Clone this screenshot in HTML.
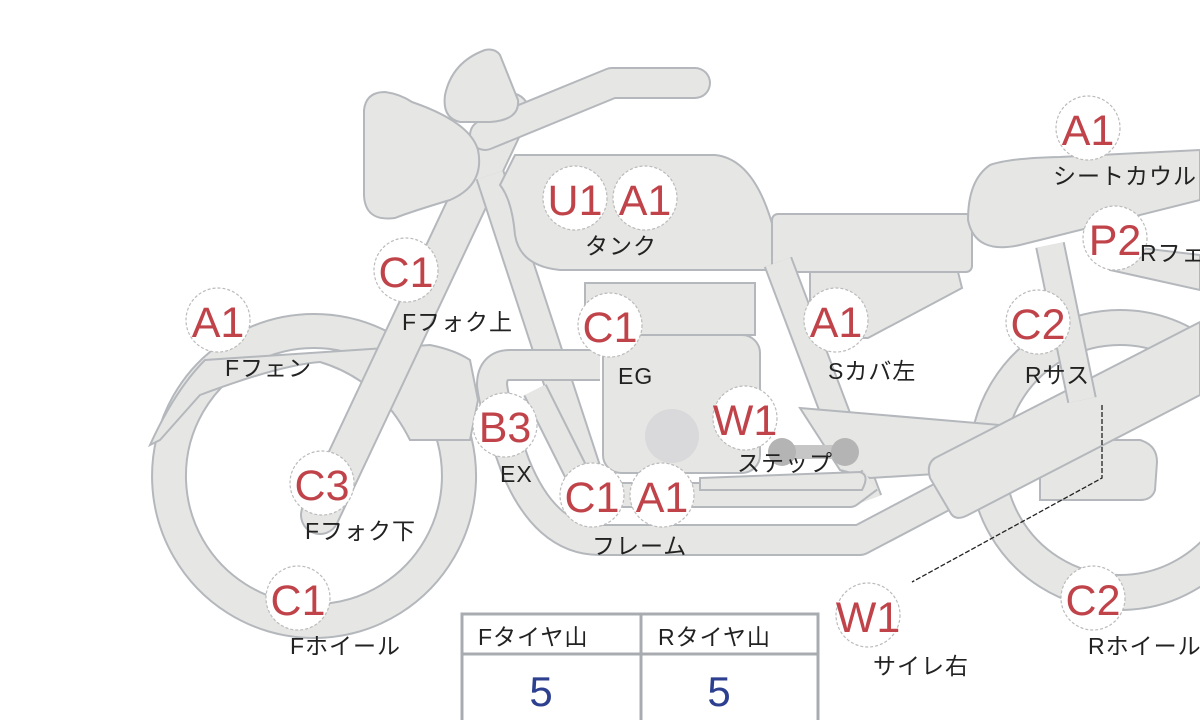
<!DOCTYPE html>
<html><head><meta charset="utf-8"><style>
html,body{margin:0;padding:0;background:#fff;}
svg{display:block}
text{font-family:"Liberation Sans","Noto Sans CJK JP",sans-serif;}
.b{font-size:43px;fill:#c0434a;text-anchor:middle}
.l{font-size:23px;fill:#222;letter-spacing:1px}
</style></head><body>
<svg width="1200" height="720" viewBox="0 0 1200 720" xmlns="http://www.w3.org/2000/svg">
<defs>
<style>.s{fill:#e6e6e4;stroke:#b4b8bc;stroke-width:2}</style>
</defs>
<!-- rear wheel -->
<path class="s" fill-rule="evenodd" d="M1120,310 a150,150 0 1,0 0.1,0 Z M1120,345 a115,115 0 1,1 -0.1,0 Z"/>
<!-- front wheel -->
<path class="s" fill-rule="evenodd" d="M314,314 a162,162 0 1,0 0.1,0 Z M314,348 a128,128 0 1,1 -0.1,0 Z"/>
<!-- fender inner bump -->
<path class="s" d="M160,440 L150,445 Q175,390 205,360 L430,345 Q455,350 470,360 L478,400 L470,440 L410,440 Q380,380 320,362 Q280,365 200,395 Z"/>
<!-- fork -->
<g stroke-linecap="round"><line x1="510" y1="112" x2="320" y2="515" stroke="#b4b8bc" stroke-width="40"/><line x1="510" y1="112" x2="320" y2="515" stroke="#e6e6e4" stroke-width="36"/></g>
<!-- handlebar -->
<path d="M485,135 L612,83 L695,83" fill="none" stroke="#b4b8bc" stroke-width="32" stroke-linecap="round" stroke-linejoin="round"/>
<path d="M485,135 L612,83 L695,83" fill="none" stroke="#e6e6e4" stroke-width="28" stroke-linecap="round" stroke-linejoin="round"/>
<!-- bulb -->
<path class="s" d="M485,50 Q495,48 500,55 L518,100 Q520,120 490,122 L460,122 Q442,118 445,95 Q452,62 485,50 Z"/>
<!-- headlight -->
<path class="s" d="M385,92 Q400,94 412,102 Q470,122 478,150 Q485,185 450,200 Q410,212 395,218 Q365,222 364,195 L364,110 Q366,92 385,92 Z"/>
<!-- left frame tube -->
<line x1="490" y1="175" x2="590" y2="480" stroke="#b4b8bc" stroke-width="30"/>
<line x1="490" y1="175" x2="590" y2="480" stroke="#e6e6e4" stroke-width="26"/>
<!-- tank -->
<path class="s" d="M515,155 L715,155 Q765,160 782,270 L560,270 Q520,266 515,235 Q512,200 500,185 Z"/>
<!-- seat -->
<rect class="s" x="772" y="214" width="200" height="58" rx="6"/>
<!-- side cover -->
<path class="s" d="M810,272 L958,272 L962,288 L868,338 L810,338 Z"/>
<!-- right frame tube -->
<line x1="778" y1="262" x2="868" y2="500" stroke="#b4b8bc" stroke-width="30"/>
<line x1="778" y1="262" x2="868" y2="500" stroke="#e6e6e4" stroke-width="26"/>
<!-- swingarm -->
<path class="s" d="M800,408 L1000,425 L1000,470 L870,478 L840,470 Z"/>
<!-- engine -->
<rect class="s" x="585" y="283" width="170" height="52"/>
<rect class="s" x="603" y="335" width="157" height="138" rx="18"/>
<circle cx="672" cy="436" r="27" fill="#d9d9db"/>
<!-- exhaust -->
<path d="M600,365 L510,365 Q492,365 492,385 Q495,410 515,465 Q545,540 600,540 L860,540 L1050,440" fill="none" stroke="#b4b8bc" stroke-width="32" stroke-linejoin="round"/>
<path d="M600,365 L510,365 Q492,365 492,385 Q495,410 515,465 Q545,540 600,540 L860,540 L1050,440" fill="none" stroke="#e6e6e4" stroke-width="28" stroke-linejoin="round"/>
<path d="M535,390 L575,470 Q590,495 620,495 L850,495 L870,480" fill="none" stroke="#b4b8bc" stroke-width="26" stroke-linejoin="round"/>
<path d="M535,390 L575,470 Q590,495 620,495 L850,495 L870,480" fill="none" stroke="#e6e6e4" stroke-width="22" stroke-linejoin="round"/>
<path class="s" d="M700,478 L860,472 Q870,475 862,490 L700,490 Z" stroke="none"/>
<!-- muffler back piece -->
<path class="s" d="M1040,440 L1140,440 Q1157,445 1157,462 L1155,490 Q1152,500 1140,500 L1040,500 Z"/>
<!-- muffler -->
<path class="s" d="M935,458 L1200,322 L1200,395 L968,515 Q955,522 950,512 L930,478 Q926,464 935,458 Z"/>
<!-- rear shocks -->
<line x1="1050" y1="245" x2="1082" y2="400" stroke="#b4b8bc" stroke-width="30"/>
<line x1="1050" y1="245" x2="1082" y2="400" stroke="#e6e6e4" stroke-width="26"/>
<path class="s" d="M1115,245 L1200,255 L1200,290 L1110,270 Z"/>
<!-- seat cowl -->
<path class="s" d="M990,165 Q1010,158 1060,157 L1200,150 L1200,200 L1020,245 Q975,255 968,220 Q968,180 990,165 Z"/>
<!-- step pegs -->
<line x1="782" y1="452" x2="845" y2="452" stroke="#c6c6c6" stroke-width="14"/>
<circle cx="782" cy="452" r="14" fill="#b4b4b4"/>
<circle cx="845" cy="452" r="14" fill="#b4b4b4"/>
<!-- leader line -->
<path d="M1102,405 L1102,478 L912,582" fill="none" stroke="#222" stroke-width="1.3" stroke-dasharray="5,2"/>
<!-- badges -->
<g fill="#fff" stroke="#bbb" stroke-width="1.2" stroke-dasharray="3,2">
<circle cx="1088" cy="128" r="32"/><circle cx="575" cy="198" r="32"/><circle cx="645" cy="198" r="32"/>
<circle cx="406" cy="270" r="32"/><circle cx="218" cy="320" r="32"/><circle cx="610" cy="325" r="32"/>
<circle cx="836" cy="320" r="32"/><circle cx="1038" cy="322" r="32"/><circle cx="1115" cy="238" r="32"/>
<circle cx="505" cy="425" r="32"/><circle cx="745" cy="418" r="32"/><circle cx="322" cy="483" r="32"/>
<circle cx="592" cy="495" r="32"/><circle cx="662" cy="495" r="32"/><circle cx="1093" cy="598" r="32"/>
<circle cx="868" cy="615" r="32"/><circle cx="298" cy="598" r="32"/>
</g>
<g class="b">
<text x="1088" y="145">A1</text><text x="575" y="215">U1</text><text x="645" y="215">A1</text>
<text x="406" y="287">C1</text><text x="218" y="337">A1</text><text x="610" y="342">C1</text>
<text x="836" y="337">A1</text><text x="1038" y="339">C2</text><text x="1115" y="255">P2</text>
<text x="505" y="442">B3</text><text x="745" y="435">W1</text><text x="322" y="500">C3</text>
<text x="592" y="512">C1</text><text x="662" y="512">A1</text><text x="1093" y="615">C2</text>
<text x="868" y="632">W1</text><text x="298" y="615">C1</text>
</g>
<g class="l">
<text x="1053" y="184">シートカウル</text>
<text x="1140" y="261">Rフェンダー</text>
<text x="585" y="254">タンク</text>
<text x="402" y="330">Fフォク上</text>
<text x="225" y="376">Fフェン</text>
<text x="618" y="384">EG</text>
<text x="828" y="379">Sカバ左</text>
<text x="1025" y="383">Rサス</text>
<text x="500" y="482">EX</text>
<text x="737" y="471">ステップ</text>
<text x="305" y="539">Fフォク下</text>
<text x="592" y="554">フレーム</text>
<text x="1088" y="654">Rホイール</text>
<text x="290" y="654">Fホイール</text>
<text x="873" y="674">サイレ右</text>
</g>
<!-- table -->
<g fill="none" stroke="#a8acb0" stroke-width="3">
<rect x="462" y="614" width="356" height="110"/>
<line x1="462" y1="654" x2="818" y2="654"/>
<line x1="641" y1="614" x2="641" y2="720"/>
</g>
<text class="l" x="478" y="645">Fタイヤ山</text>
<text class="l" x="658" y="645">Rタイヤ山</text>
<text x="541" y="706" font-size="42" fill="#2d3f8f" text-anchor="middle">5</text>
<text x="719" y="706" font-size="42" fill="#2d3f8f" text-anchor="middle">5</text>
</svg>
</body></html>
